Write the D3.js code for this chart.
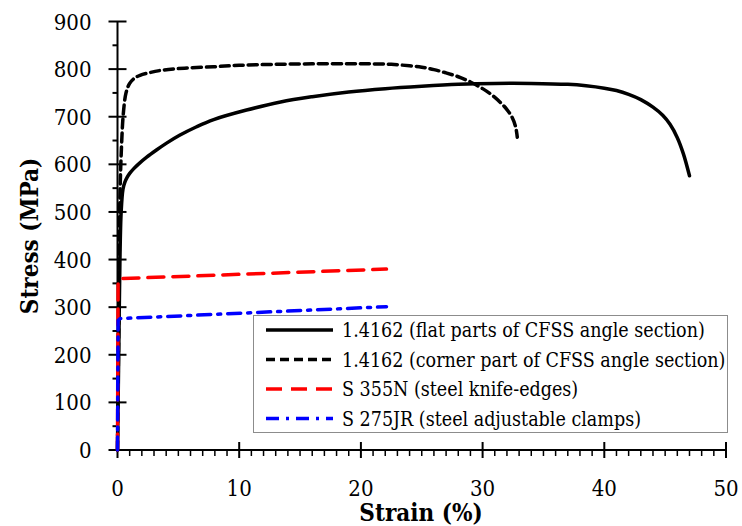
<!DOCTYPE html>
<html>
<head>
<meta charset="utf-8">
<script src="https://cdn.jsdelivr.net/npm/d3@7"></script>
<style>
  body { margin: 0; background: #fff; }
  svg { display: block; }
  .tick-label { font-family: 'DejaVu Serif Condensed', 'DejaVu Serif', serif; font-size: 22px; fill: #000; }
  .axis-title { font-family: 'DejaVu Serif Condensed', 'DejaVu Serif', serif; font-size: 24px; font-weight: bold; fill: #000; }
  .legend-text { font-family: 'DejaVu Serif Condensed', 'DejaVu Serif', serif; font-size: 19.5px; fill: #000; }
</style>
</head>
<body>
<svg id="chart"></svg>
<script>
const WIDTH = 742
const HEIGHT = 526
const X0 = 117.5, X1 = 726
const Y0 = 450, Y1 = 21.5

// 1.4162 flat parts of CFSS angle section
const flatStrain = [0, 0.1, 0.2, 0.3, 0.45, 0.6, 0.8, 1.0, 1.3, 1.7, 2.4, 3.2, 4.0, 5.1, 6.5, 7.9, 10.6, 13.4, 16, 19, 22, 25, 28, 31, 34, 37, 38.5, 40, 41, 42, 43, 44, 44.8, 45.4, 46, 46.5, 47]
const flatStress = [0, 200, 400, 500, 548, 562, 573, 581, 590, 600, 615, 630, 644, 661, 679, 694, 714, 731, 742, 752, 759, 764, 768, 770, 770, 768, 765, 760, 755, 747, 736, 720, 703, 684, 656, 622, 576]

// 1.4162 corner part of CFSS angle section
const cornerStrain = [0, 0.1, 0.2, 0.35, 0.48, 0.7, 1.0, 1.4, 1.85, 2.7, 3.75, 5.5, 7.9, 10, 12.8, 16, 19, 21, 22.5, 24, 25, 26, 27, 28, 29, 30, 30.8, 31.5, 32, 32.4, 32.7, 32.85]
const cornerStress = [0, 260, 532, 650, 707, 750, 770, 781, 787, 793, 798, 802, 805, 808, 810, 811, 811, 811, 810, 807, 804, 799, 792, 784, 773, 759, 745, 729, 715, 700, 680, 657]

// S 355N steel knife-edges
const knifeStrain = [0, 0.05, 0.2, 22.1]
const knifeStress = [0, 355, 360, 380]

// S 275JR steel adjustable clamps
const clampStrain = [0, 0.05, 0.2, 22.1]
const clampStress = [0, 272, 276, 301]

const xTicks = [0, 10, 20, 30, 40, 50]
const yTicks = [0, 100, 200, 300, 400, 500, 600, 700, 800, 900]

const legendLabels = [
  '1.4162 (flat parts of CFSS angle section)',
  '1.4162 (corner part of CFSS angle section)',
  'S 355N  (steel knife-edges)',
  'S 275JR (steel adjustable clamps)'
]

const smooth = d3.curveCatmullRom.alpha(0.5)

const series = [
  { x: flatStrain, y: flatStress, color: '#000', dash: null, width: 3.5, curve: smooth },
  { x: cornerStrain, y: cornerStress, color: '#000', dash: '9,5', width: 3.5, curve: smooth },
  { x: knifeStrain, y: knifeStress, color: '#ff0000', dash: '16,9', width: 3.5, curve: d3.curveLinear },
  { x: clampStrain, y: clampStress, color: '#0000ff', dash: '13,7,3,7', width: 3.5, curve: d3.curveLinear }
]

const svg = d3.select('#chart')
  .attr('width', WIDTH)
  .attr('height', HEIGHT)

const x = d3.scaleLinear().domain([0, 50]).range([X0, X1])
const y = d3.scaleLinear().domain([0, 900]).range([Y0, Y1])

// y axis: major ticks cross the line, minor ticks on the outside
const yAxis = svg.append('g')
yAxis.append('line')
  .attr('x1', X0).attr('x2', X0)
  .attr('y1', y(0)).attr('y2', y(900))
  .attr('stroke', '#000').attr('stroke-width', 2)
yAxis.selectAll('.major')
  .data(yTicks)
  .enter()
  .append('line')
  .attr('x1', X0 - 9).attr('x2', X0 + 9)
  .attr('y1', d => y(d)).attr('y2', d => y(d))
  .attr('stroke', '#000').attr('stroke-width', 2)
yAxis.selectAll('.minor')
  .data(d3.range(50, 900, 100))
  .enter()
  .append('line')
  .attr('x1', X0 - 5).attr('x2', X0)
  .attr('y1', d => y(d)).attr('y2', d => y(d))
  .attr('stroke', '#000').attr('stroke-width', 2)
yAxis.selectAll('text')
  .data(yTicks)
  .enter()
  .append('text')
  .attr('class', 'tick-label')
  .attr('text-anchor', 'end')
  .attr('x', X0 - 26)
  .attr('y', d => y(d) + 8)
  .text(d => d)

// x axis
const xAxis = svg.append('g')
xAxis.append('line')
  .attr('x1', x(0)).attr('x2', x(50))
  .attr('y1', Y0).attr('y2', Y0)
  .attr('stroke', '#000').attr('stroke-width', 2)
xAxis.selectAll('.major')
  .data(xTicks)
  .enter()
  .append('line')
  .attr('x1', d => x(d)).attr('x2', d => x(d))
  .attr('y1', Y0 - 8).attr('y2', Y0 + 8)
  .attr('stroke', '#000').attr('stroke-width', 2)
xAxis.selectAll('.minor')
  .data(d3.range(0, 51).filter(d => d % 10 !== 0))
  .enter()
  .append('line')
  .attr('x1', d => x(d)).attr('x2', d => x(d))
  .attr('y1', Y0).attr('y2', Y0 + 6)
  .attr('stroke', '#000').attr('stroke-width', 1.5)
xAxis.selectAll('text')
  .data(xTicks)
  .enter()
  .append('text')
  .attr('class', 'tick-label')
  .attr('text-anchor', 'middle')
  .attr('x', d => x(d))
  .attr('y', Y0 + 46)
  .text(d => d)

svg.append('text')
  .attr('class', 'axis-title')
  .attr('text-anchor', 'middle')
  .attr('x', 421)
  .attr('y', 521)
  .text('Strain (%)')

svg.append('text')
  .attr('class', 'axis-title')
  .attr('text-anchor', 'middle')
  .attr('transform', 'translate(38, 236) rotate(-90)')
  .text('Stress (MPa)')

// curves
series.forEach(s => {
  const line = d3.line()
    .x(d => x(d[0]))
    .y(d => y(d[1]))
    .curve(s.curve)
  svg.append('path')
    .datum(d3.zip(s.x, s.y))
    .attr('d', line)
    .attr('fill', 'none')
    .attr('stroke', s.color)
    .attr('stroke-width', s.width)
    .attr('stroke-dasharray', s.dash)
    .attr('stroke-linecap', 'round')
})

// legend
const legend = svg.append('g')
legend.append('rect')
  .attr('x', 253.5).attr('y', 315.5)
  .attr('width', 474).attr('height', 117)
  .attr('fill', '#fff')
  .attr('stroke', '#8c8c8c')
  .attr('stroke-width', 1)

const rows = legend.selectAll('.row')
  .data(series)
  .enter()
  .append('g')
  .attr('transform', (d, i) => `translate(0, ${330 + i * 29.5})`)
rows.append('line')
  .attr('x1', 266).attr('x2', 333)
  .attr('y1', 0).attr('y2', 0)
  .attr('stroke', d => d.color)
  .attr('stroke-width', d => d.width)
  .attr('stroke-dasharray', d => d.dash)
rows.append('text')
  .attr('class', 'legend-text')
  .attr('x', 342)
  .attr('y', 7)
  .text((d, i) => legendLabels[i])
</script>
</body>
</html>
